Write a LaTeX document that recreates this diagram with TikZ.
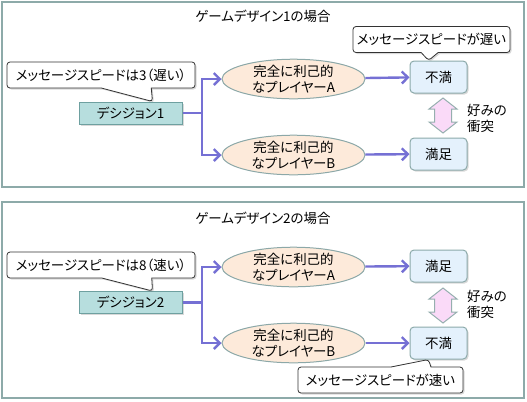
\documentclass[tikz,border=0pt]{standalone}
\usepackage{fontspec}
\setmainfont{Noto Sans CJK JP}[RawFeature=+palt]
\usetikzlibrary{arrows.meta,shapes.geometric,shapes.callouts,shadows}
\definecolor{framecol}{RGB}{141,170,169}
\definecolor{decfill}{RGB}{183,222,222}
\definecolor{decdraw}{RGB}{110,160,160}
\definecolor{ellfill}{RGB}{253,234,218}
\definecolor{elldraw}{RGB}{140,168,168}
\definecolor{resfill}{RGB}{228,241,252}
\definecolor{resdraw}{RGB}{140,170,170}
\definecolor{linkcol}{RGB}{117,112,212}
\definecolor{clashfill}{RGB}{250,218,248}
\definecolor{clashdraw}{RGB}{150,175,175}
\tikzset{
	boxshadow/.style={drop shadow={opacity=.3,shadow xshift=1.5bp,shadow yshift=-1.5bp}},
	clash/.pic={
		\draw[draw=clashdraw,fill=clashfill,line width=1bp] (0,-17.5) -- (14,-6.5) -- (8.5,-6.5) -- (8.5,6.5) -- (14,6.5) -- (0,17.5) -- (-14,6.5) -- (-8.5,6.5) -- (-8.5,-6.5) -- (-14,-6.5) -- cycle;
	}
}

\begin{document}
\begin{tikzpicture}[x=1bp,y=-1bp,font=\fontsize{13.5}{16}\selectfont,
		panel/.style={draw=framecol,line width=1.5bp},
		decision/.style={draw=decdraw,fill=decfill,line width=1bp,minimum width=103bp,minimum height=22bp,inner sep=0pt,boxshadow},
		player/.style={ellipse,draw=elldraw,fill=ellfill,line width=1bp,minimum width=143bp,minimum height=36bp,inner sep=0pt,align=center},
		result/.style={draw=resdraw,fill=resfill,line width=1bp,rounded corners=4bp,minimum width=57bp,minimum height=32bp,inner sep=0pt,boxshadow},
		note/.style={rectangle callout,draw=black!80,fill=white,line width=.8bp,rounded corners=3bp,minimum height=26bp,inner sep=1bp,boxshadow},
		link/.style={draw=linkcol,line width=2.4bp,-{Straight Barb[length=6bp,width=12bp]}}]
		\useasboundingbox (0,0) rectangle (527,401);

		\draw[panel] (2,2) rectangle (524,187);
		\node (title1) at (263,16) {ゲームデザイン1の場合};
		\node[decision] (dec1) at (130.5,113) {デシジョン1};
		\node[player] (pA1) at (293.5,79) {完全に利己的\\なプレイヤーA};
		\node[player] (pB1) at (293.5,155) {完全に利己的\\なプレイヤーB};
		\node[result] (r1A) at (438.5,77) {不満};
		\node[result] (r1B) at (438.5,154) {満足};
		\coordinate (j1) at (202,113);
		\draw[link] (dec1.east) -- (j1) |- (pA1.west);
		\draw[link] (j1) |- (pB1.west);
		\draw[link] (pA1) -- (r1A);
		\draw[link] (pB1) -- (r1B);
		\pic at (443,115.5) {clash};
		\node[align=left,anchor=west,inner sep=0pt] (why1) at (467,118) {好みの\\衝突};
		\node[note,callout absolute pointer={([xshift=-30bp]dec1.north east)},callout pointer width=50bp,minimum width=188bp] (msg1) at (101,75) {メッセージスピードは3（遅い）};
		\node[note,callout absolute pointer={([xshift=-10bp]r1A.north)},callout pointer width=17bp,minimum width=157bp] (slow1) at (431.5,39.5) {メッセージスピードが遅い};

		\draw[panel] (2,202) rectangle (524,398);
		\node (title2) at (263,218) {ゲームデザイン2の場合};
		\node[decision] (dec2) at (130.5,302.5) {デシジョン2};
		\node[player] (pA2) at (293.5,267) {完全に利己的\\なプレイヤーA};
		\node[player] (pB2) at (293.5,343) {完全に利己的\\なプレイヤーB};
		\node[result] (r2A) at (438.5,266) {満足};
		\node[result] (r2B) at (438.5,343) {不満};
		\coordinate (j2) at (202,302.5);
		\draw[link] (dec2.east) -- (j2) |- (pA2.west);
		\draw[link] (j2) |- (pB2.west);
		\draw[link] (pA2) -- (r2A);
		\draw[link] (pB2) -- (r2B);
		\pic at (443,305.5) {clash};
		\node[align=left,anchor=west,inner sep=0pt] (why2) at (467,304) {好みの\\衝突};
		\node[note,callout absolute pointer={([xshift=-30bp]dec2.north east)},callout pointer width=50bp,minimum width=188bp] (msg2) at (101,265) {メッセージスピードは8（速い）};
		\node[note,callout absolute pointer={([xshift=-10bp]r2B.south)},callout pointer width=40bp,minimum width=165bp] (fast2) at (380.5,380) {メッセージスピードが速い};
	\end{tikzpicture}
\end{document}
